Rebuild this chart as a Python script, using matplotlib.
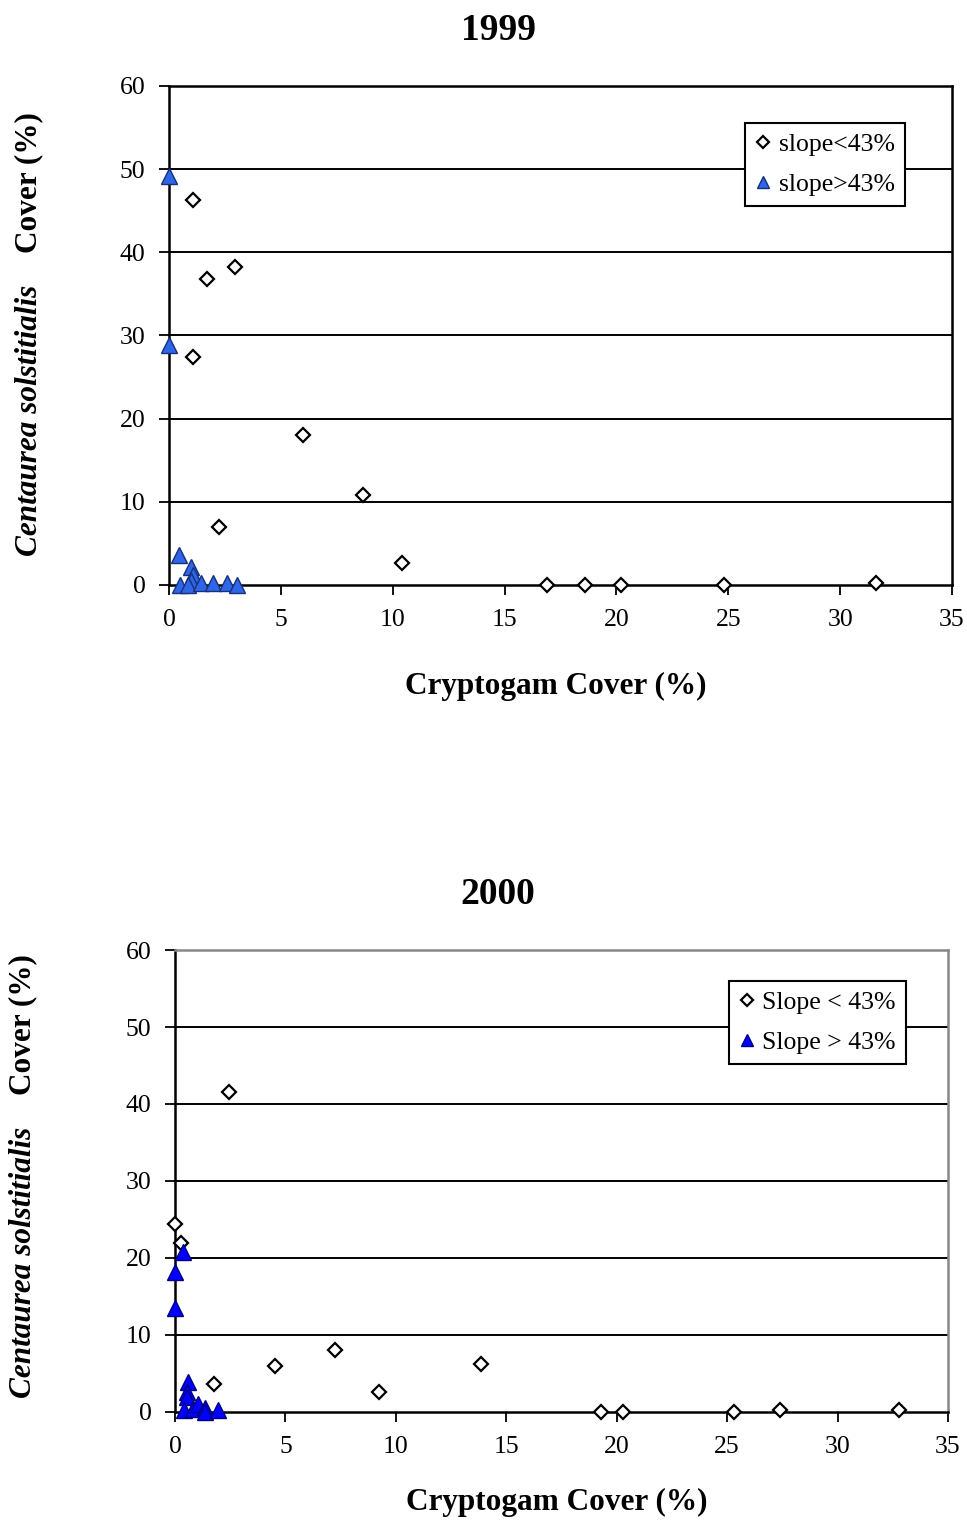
import matplotlib
matplotlib.use("Agg")
import matplotlib.pyplot as plt

plt.rcParams["font.family"] = ["Liberation Serif", "DejaVu Serif"]

# --- 1999 data (cryptogam cover %, Centaurea cover %) ---
x99_low = [1.07, 1.7, 2.95, 1.07, 6.0, 8.67, 2.24, 10.4, 16.9, 18.6, 20.2, 24.8, 31.6]
y99_low = [46.3, 36.8, 38.2, 27.4, 18.0, 10.8, 7.0, 2.6, 0.0, 0.0, 0.0, 0.0, 0.2]
x99_high = [0.0, 0.0, 0.45, 0.97, 1.06, 1.0, 0.5, 0.86, 1.42, 1.95, 2.58, 3.03]
y99_high = [49.2, 28.8, 3.6, 2.2, 1.2, 0.5, 0.0, 0.0, 0.2, 0.2, 0.2, 0.0]

# --- 2000 data ---
x00_low = [0.0, 0.27, 2.44, 1.77, 4.53, 7.24, 9.23, 13.85, 19.3, 20.3, 25.3, 27.4, 32.8]
y00_low = [24.4, 21.9, 41.6, 3.6, 6.0, 8.05, 2.6, 6.2, 0.0, 0.0, 0.0, 0.26, 0.26]
x00_high = [0.38, 0.0, 0.0, 0.6, 0.53, 0.55, 0.42, 0.83, 1.05, 1.36, 1.36, 1.96]
y00_high = [20.8, 18.2, 13.5, 3.9, 2.6, 2.0, 0.2, 0.35, 1.0, 0.5, 0.0, 0.2]

x_ticks = [0, 5, 10, 15, 20, 25, 30, 35]
y_ticks = [0, 10, 20, 30, 40, 50, 60]

fig = plt.figure(figsize=(9.67, 15.21), dpi=100)


def draw_panel(rect, xl, yl, xh, yh, labels, tri_face, tri_edge, frame_col,
               leg_anchor, title, title_y, xlabel_y, ylab_x, ylab_parts):
    ax = fig.add_axes(rect)
    ax.set_xlim(0, 35)
    ax.set_ylim(0, 60)
    ax.set_xticks(x_ticks)
    ax.set_yticks(y_ticks)
    ax.tick_params(labelsize=18.5, width=1.3, length=7, direction="out", pad=10)
    for yv in y_ticks[1:-1]:
        ax.axhline(yv, color="black", lw=1.4, zorder=1)
    for s in ("left", "bottom"):
        ax.spines[s].set_linewidth(1.8)
        ax.spines[s].set_color("black")
    for s in ("top", "right"):
        ax.spines[s].set_linewidth(1.8)
        ax.spines[s].set_color(frame_col)
    ax.plot(xl, yl, "D", ms=7, mfc="white", mec="black", mew=1.6,
            ls="none", clip_on=False, zorder=4, label=labels[0])
    ax.plot(xh, yh, "^", ms=11, mfc=tri_face, mec=tri_edge, mew=1.0,
            ls="none", clip_on=False, zorder=5, label=labels[1])
    leg = ax.legend(loc="upper right", bbox_to_anchor=leg_anchor, fontsize=18.5,
                    fancybox=False, framealpha=1, edgecolor="black",
                    handlelength=0.6, handletextpad=0.3, borderpad=0.4,
                    labelspacing=0.65, markerscale=0.85, borderaxespad=0)
    leg.get_frame().set_linewidth(1.5)
    fig.text(0.515, title_y, title, ha="center", va="center",
             fontsize=27, fontweight="bold")
    fig.text(rect[0] + rect[2] / 2 - 0.005, xlabel_y, "Cryptogam Cover (%)",
             ha="center", va="center", fontsize=22.5, fontweight="bold")
    # y label made of an italic species name and a plain bold part
    (y1, y2) = ylab_parts
    fig.text(ylab_x, y1, "Centaurea solstitialis", rotation=90, ha="center",
             va="center", fontsize=22.5, fontweight="bold", fontstyle="italic")
    fig.text(ylab_x, y2, "Cover (%)", rotation=90, ha="center",
             va="center", fontsize=22.5, fontweight="bold")
    return ax


draw_panel([0.1748, 0.6154, 0.8097, 0.3281], x99_low, y99_low, x99_high, y99_high,
           ["slope<43%", "slope>43%"], "#2F66E8", "#17307A", "black",
           (0.94, 0.926), "1999", 0.980, 0.549, 0.030,
           (1 - 420 / 1521, 1 - 183 / 1521))

draw_panel([0.181, 0.0717, 0.7994, 0.3037], x00_low, y00_low, x00_high, y00_high,
           ["Slope < 43%", "Slope > 43%"], "#0000FF", "#000080", "#888888",
           (0.9457, 0.933), "2000", 0.4116, 0.012, 0.024,
           (1 - 1262 / 1521, 1 - 1025 / 1521))

fig.savefig("out.png", dpi=100)
